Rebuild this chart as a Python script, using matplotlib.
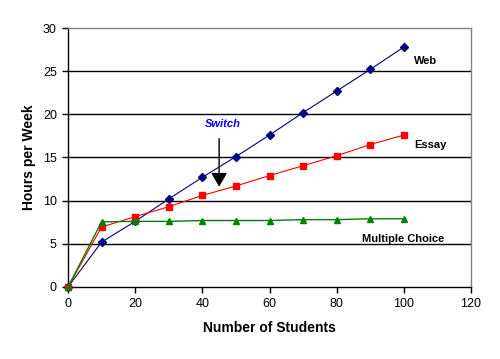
import matplotlib
matplotlib.use("Agg")
import matplotlib.pyplot as plt

students = [0, 10, 20, 30, 40, 50, 60, 70, 80, 90, 100]
web = [0, 5.2, 7.6, 10.2, 12.7, 15.1, 17.6, 20.2, 22.7, 25.2, 27.8]
essay = [0, 6.95, 8.15, 9.3, 10.6, 11.7, 12.9, 14.05, 15.2, 16.5, 17.6]
mc = [0, 7.55, 7.6, 7.6, 7.7, 7.7, 7.7, 7.8, 7.8, 7.9, 7.9]

x_ticks = [0, 20, 40, 60, 80, 100, 120]
y_ticks = [0, 5, 10, 15, 20, 25, 30]

plt.rcParams['font.family'] = ['Liberation Sans', 'DejaVu Sans']

fig = plt.figure(figsize=(5, 3.59), dpi=100)
ax = fig.add_axes([0.136, 0.2006, 0.806, 0.7214])

for v in y_ticks[1:-1]:
    ax.axhline(v, color='black', lw=1.0, zorder=1)

ax.plot(students, web, color='#000080', lw=0.8, marker='D', ms=4, mfc='#000080', mec='#000080', zorder=3, clip_on=False)
ax.plot(students, essay, color='#ff0000', lw=0.8, marker='s', ms=5, mfc='#ff0000', mec='#ff0000', zorder=4, clip_on=False)
ax.plot(students, mc, color='#008000', lw=1.0, marker='^', ms=5, mfc='#008000', mec='#008000', zorder=5, clip_on=False)

ax.set_xlim(0, 120)
ax.set_ylim(0, 30)
ax.set_xticks(x_ticks)
ax.set_yticks(y_ticks)
ax.tick_params(axis='both', direction='out', length=4, width=1, labelsize=9, colors='black', pad=4)

for s in ['top', 'right']:
    ax.spines[s].set_color('#808080')
    ax.spines[s].set_linewidth(1)
for s in ['left', 'bottom']:
    ax.spines[s].set_color('black')
    ax.spines[s].set_linewidth(1)

ax.set_xlabel('Number of Students', fontsize=10, fontweight='bold', labelpad=8)
ax.set_ylabel('Hours per Week', fontsize=10, fontweight='bold', labelpad=5)

ax.text(103, 25.8, 'Web', fontsize=8, fontweight='bold')
ax.text(103, 16.1, 'Essay', fontsize=8, fontweight='bold')
ax.text(87.5, 5.2, 'Multiple Choice', fontsize=8, fontweight='bold')

ax.text(46, 18.5, 'Switch', fontsize=8, fontweight='bold', style='italic', color='#0000ff', ha='center')
ax.annotate('', xy=(45, 11.3), xytext=(45, 17.5),
            arrowprops=dict(arrowstyle='-|>,head_width=0.35,head_length=0.6', color='black', lw=1, mutation_scale=14))

fig.savefig('out.png', dpi=100)
